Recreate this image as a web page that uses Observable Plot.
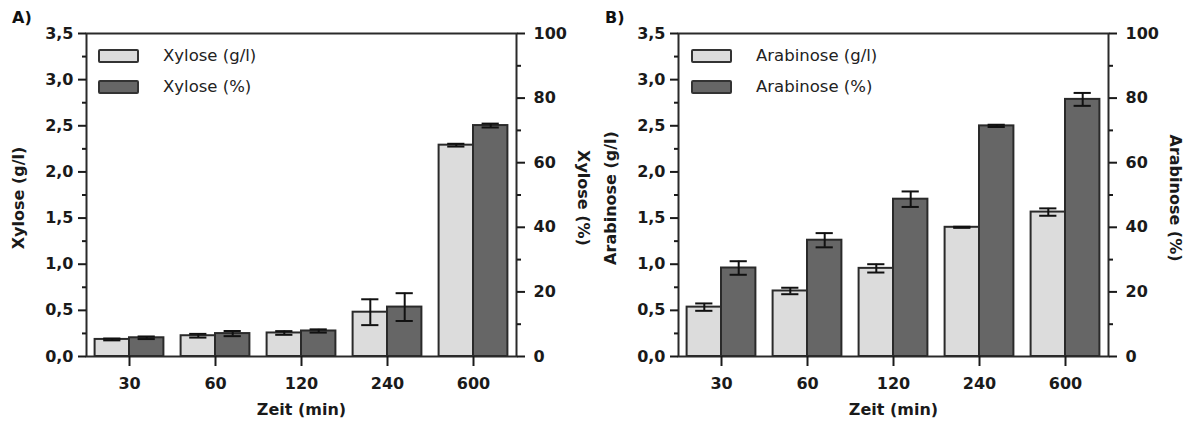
<!DOCTYPE html>
<html>
<head>
<meta charset="utf-8">
<script src="https://cdn.jsdelivr.net/npm/d3@7"></script>
<script src="https://cdn.jsdelivr.net/npm/@observablehq/plot@0.6"></script>
<style>
  body { margin: 0; background: #fff; }
  #wrap { position: relative; width: 1187px; height: 421px; display: flex; }
  .panel { position: relative; width: 593px; height: 421px; }
  .tag { position: absolute; left: 12px; top: 8px; font: bold 16px 'DejaVu Sans', sans-serif; color: #111; }
  .legend { position: absolute; left: 98px; top: 40px; font: 16.5px 'DejaVu Sans', sans-serif; color: #222; }
  .legend .item { display: flex; align-items: center; height: 31px; }
  .legend .sw { width: 37px; height: 10px; border: 2px solid #333; border-radius: 2px; margin-right: 24px; }
</style>
</head>
<body>
<div id="wrap"></div>
<script>
const categories = ["30", "60", "120", "240", "600"];

const xyloseGL = [0.185, 0.225, 0.255, 0.48, 2.29];
const xyloseGLErr = [0.01, 0.02, 0.02, 0.14, 0.015];
const xylosePct = [5.8, 7.1, 7.9, 15.3, 71.5];
const xylosePctErr = [0.4, 0.8, 0.5, 4.3, 0.6];

const arabinoseGL = [0.535, 0.71, 0.955, 1.40, 1.565];
const arabinoseGLErr = [0.04, 0.035, 0.045, 0.006, 0.04];
const arabinosePct = [27.4, 36.0, 48.7, 71.4, 79.6];
const arabinosePctErr = [2.1, 2.2, 2.4, 0.35, 2.0];

const maxGL = 3.5, maxPct = 100;
const k = maxGL / maxPct;
const lightFill = "#dcdcdc", darkFill = "#666666";
const font = "'DejaVu Sans', sans-serif";

function panel(tag, name, gl, glErr, pct, pctErr, ml, mr) {
  const rows = categories.map((c, i) => ({
    i, gl: gl[i], glErr: glErr[i], p: pct[i] * k, pErr: pctErr[i] * k
  }));
  const errStyle = {stroke: "#111", strokeWidth: 2};
  const titleStyle = {fontSize: 16, fontWeight: "bold", fill: "#1a1a1a", textAnchor: "middle"};
  const chart = Plot.plot({
    width: 593, height: 421,
    marginLeft: ml, marginRight: mr, marginTop: 33, marginBottom: 65,
    x: {domain: [-0.5, categories.length - 0.5]},
    y: {domain: [0, maxGL]},
    style: {fontFamily: font, fontSize: "16px", fontWeight: "bold", color: "#1a1a1a", background: "white", overflow: "visible"},
    marks: [
      Plot.rect(rows, {x1: d => d.i - 0.4, x2: d => d.i, y1: 0, y2: d => d.gl, fill: lightFill, stroke: "#2a2a2a", strokeWidth: 2}),
      Plot.rect(rows, {x1: d => d.i, x2: d => d.i + 0.4, y1: 0, y2: d => d.p, fill: darkFill, stroke: "#2a2a2a", strokeWidth: 2}),
      Plot.ruleX(rows, {x: d => d.i - 0.2, y1: d => d.gl - d.glErr, y2: d => d.gl + d.glErr, ...errStyle}),
      Plot.ruleY(rows, {y: d => d.gl + d.glErr, x1: d => d.i - 0.3, x2: d => d.i - 0.1, ...errStyle}),
      Plot.ruleY(rows, {y: d => d.gl - d.glErr, x1: d => d.i - 0.3, x2: d => d.i - 0.1, ...errStyle}),
      Plot.ruleX(rows, {x: d => d.i + 0.2, y1: d => d.p - d.pErr, y2: d => d.p + d.pErr, ...errStyle}),
      Plot.ruleY(rows, {y: d => d.p + d.pErr, x1: d => d.i + 0.1, x2: d => d.i + 0.3, ...errStyle}),
      Plot.ruleY(rows, {y: d => d.p - d.pErr, x1: d => d.i + 0.1, x2: d => d.i + 0.3, ...errStyle}),
      Plot.frame({stroke: "#2a2a2a", strokeWidth: 2}),
      Plot.axisX({ticks: d3.range(categories.length), tickFormat: i => categories[i], tickSize: 10, tickPadding: 11, strokeWidth: 2, label: null}),
      Plot.axisY({ticks: d3.range(0, maxGL + 0.01, 0.5), tickFormat: d => d.toFixed(1).replace(".", ","), tickSize: 8, tickPadding: 5, strokeWidth: 2, label: null}),
      Plot.axisY({ticks: d3.range(0.25, maxGL, 0.5), tickFormat: () => "", tickSize: 4, strokeWidth: 2, label: null}),
      Plot.axisY({anchor: "right", ticks: d3.range(0, maxPct + 1, 20).map(v => v * k), tickFormat: d => String(Math.round(d / k)), tickSize: 8, tickPadding: 9, strokeWidth: 2, label: null}),
      Plot.axisY({anchor: "right", ticks: d3.range(10, maxPct, 20).map(v => v * k), tickFormat: () => "", tickSize: 4, strokeWidth: 2, label: null}),
      Plot.text(["Zeit (min)"], {frameAnchor: "bottom", dy: 58, ...titleStyle}),
      Plot.text([name + " (g/l)"], {frameAnchor: "left", rotate: -90, dx: -68, dy: 3, ...titleStyle}),
      Plot.text([name + " (%)"], {frameAnchor: "right", rotate: 90, dx: 67, dy: 3, ...titleStyle})
    ]
  });
  const div = document.createElement("div");
  div.className = "panel";
  div.appendChild(chart);
  const t = document.createElement("div");
  t.className = "tag"; t.textContent = tag;
  div.appendChild(t);
  const lg = document.createElement("div");
  lg.className = "legend";
  [[lightFill, name + " (g/l)"], [darkFill, name + " (%)"]].forEach(([c, label]) => {
    const it = document.createElement("div"); it.className = "item";
    const sw = document.createElement("div"); sw.className = "sw"; sw.style.background = c;
    const tx = document.createElement("span"); tx.textContent = label;
    it.appendChild(sw); it.appendChild(tx); lg.appendChild(it);
  });
  div.appendChild(lg);
  return div;
}

const wrap = document.getElementById("wrap");
wrap.appendChild(panel("A)", "Xylose", xyloseGL, xyloseGLErr, xylosePct, xylosePctErr, 86, 77));
wrap.appendChild(panel("B)", "Arabinose", arabinoseGL, arabinoseGLErr, arabinosePct, arabinosePctErr, 85, 78));
</script>
</body>
</html>
